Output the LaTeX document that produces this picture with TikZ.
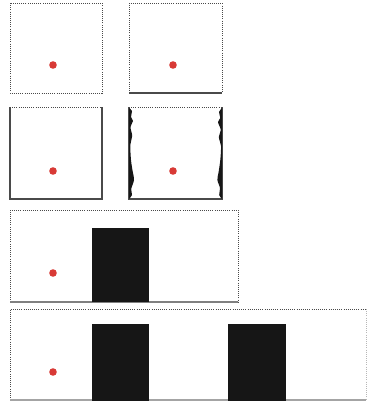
\documentclass[tikz,border=0pt]{standalone}
\usepackage{xcolor}
\usepackage{tikz}
\definecolor{dotred}{HTML}{D83A36}
\definecolor{edgegray}{HTML}{4A4A4A}
\definecolor{barblack}{HTML}{161616}
\tikzset{
  dotedge/.style={edgegray,line width=0.6pt,densely dotted},
  solidedge/.style={edgegray,line width=0.8pt},
  bar/.style={fill=barblack},
  reddot/.style={fill=dotred},
}

\begin{document}
\begin{tikzpicture}[x=0.75pt,y=-0.75pt]
  \useasboundingbox (0,0) rectangle (369,401);

  % row 1
  \draw[dotedge] (10,3) rectangle (102,93);
  \draw[dotedge] (129,93) -- (129,3) -- (222,3) -- (222,93);
  \draw[solidedge] (129,93) -- (222,93);
  \fill[reddot] (53,65) circle (3.8);
  \fill[reddot] (173,65) circle (3.8);

  % row 2
  \draw[dotedge] (10,107) -- (102,107);
  \draw[solidedge] (10,107) -- (10,199) -- (102,199) -- (102,107);
  \fill[reddot] (53,171) circle (3.8);

  \draw[dotedge] (129,107) -- (222,107);
  \draw[solidedge] (129,107) -- (129,199) -- (222,199) -- (222,107);
  \fill[barblack] plot[smooth] coordinates {(129,108) (132,111) (131,117) (133,121)
      (130.5,127) (132.2,136) (130.3,145) (131,160) (132.6,171) (134,180)
      (131.2,189) (132,195) (129,199)} -- cycle;
  \fill[barblack] plot[smooth] coordinates {(222,108) (219,112) (220.3,118) (218,122)
      (220.8,130) (218.8,137) (221,146) (220.3,160) (218.6,172) (217.4,180)
      (220,188) (219.2,195) (222,199)} -- cycle;
  \fill[reddot] (173,171) circle (3.8);

  % row 3
  \draw[dotedge] (10,302) -- (10,210) -- (238,210) -- (238,302);
  \draw[solidedge,edgegray!70] (10,302) -- (238,302);
  \fill[bar] (92,228) rectangle (149,302);
  \fill[reddot] (53,273) circle (3.8);

  % row 4
  \draw[dotedge] (10,400) -- (10,309) -- (366,309);
  \draw[dotedge,edgegray!40] (366,309) -- (366,400);
  \draw[solidedge,edgegray!50] (10,400) -- (366,400);
  \fill[bar] (92,324) rectangle (149,401);
  \fill[bar] (228,324) rectangle (286,401);
  \fill[reddot] (53,372) circle (3.8);
\end{tikzpicture}
\end{document}
